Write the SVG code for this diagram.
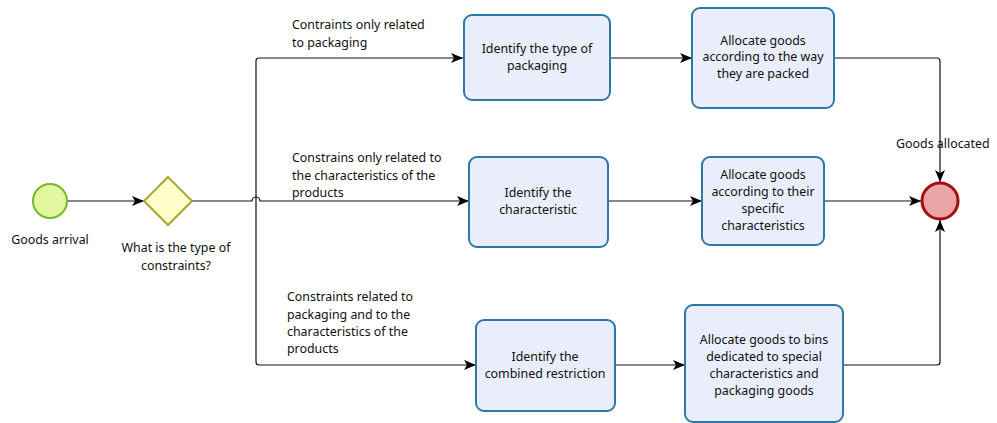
<svg xmlns="http://www.w3.org/2000/svg" width="997" height="423" viewBox="0 0 997 423">
<defs>
<marker id="arr" viewBox="0 0 12 10" refX="12" refY="5" markerWidth="12" markerHeight="10" markerUnits="userSpaceOnUse" orient="auto">
<path d="M0,0 L12,5 L0,10 L3,5 Z" fill="#000"/>
</marker>
<style>
.t{font-family:"Noto Sans","Open Sans",sans-serif;font-size:12.4px;fill:#111}
.c{text-anchor:middle}
.task{fill:#eaeefc;stroke:#2b7aa6;stroke-width:2}
.e{fill:none;stroke:#111;stroke-width:1.2}
</style>
</defs>
<rect width="997" height="423" fill="#fff"/>
<g id="connectors">
<path class="e" d="M67,201 H144" marker-end="url(#arr)"/>
<path class="e" d="M192,201 H252 A4,4 0 0 1 260,201 H469" marker-end="url(#arr)"/>
<path class="e" d="M256,201 V61 Q256,58 259,58 H463" marker-end="url(#arr)"/>
<path class="e" d="M256,201 V362 Q256,365 259,365 H476" marker-end="url(#arr)"/>
<path class="e" d="M610,58 H692" marker-end="url(#arr)"/>
<path class="e" d="M608,201 H702" marker-end="url(#arr)"/>
<path class="e" d="M615,365 H685" marker-end="url(#arr)"/>
<path class="e" d="M834,58 H937 Q940,58 940,61 V182" marker-end="url(#arr)"/>
<path class="e" d="M824,201 H921" marker-end="url(#arr)"/>
<path class="e" d="M843,365 H937 Q940,365 940,362 V220" marker-end="url(#arr)"/>
<text class="t" x="292" y="29">Contraints only related</text>
<text class="t" x="292" y="47">to packaging</text>
<text class="t" x="292" y="162">Constrains only related to</text>
<text class="t" x="292" y="180">the characteristics of the</text>
<text class="t" x="292" y="197">products</text>
<text class="t" x="287" y="301">Constraints related to</text>
<text class="t" x="287" y="319">packaging and to the</text>
<text class="t" x="287" y="336">characteristics of the</text>
<text class="t" x="287" y="353">products</text>
</g>
<g id="start">
<circle cx="50" cy="201" r="17" fill="#e2f6a0" stroke="#76b82a" stroke-width="2"/>
<text class="t c" x="50" y="244">Goods arrival</text>
</g>
<g id="gateway">
<polygon points="168,177 192,201 168,225 144,201" fill="#fffcc8" stroke="#a6a637" stroke-width="2"/>
<text class="t c" x="176" y="252">What is the type of</text>
<text class="t c" x="176" y="270">constraints?</text>
</g>
<g id="task1">
<rect class="task" x="464" y="15" width="146" height="85" rx="8"/>
<text class="t c" x="537" y="53">Identify the type of</text>
<text class="t c" x="537" y="70">packaging</text>
</g>
<g id="task2">
<rect class="task" x="469" y="157" width="139" height="90" rx="8"/>
<text class="t c" x="538" y="197">Identify the</text>
<text class="t c" x="538" y="214">characteristic</text>
</g>
<g id="task3">
<rect class="task" x="476" y="320" width="139" height="91" rx="8"/>
<text class="t c" x="545" y="361">Identify the</text>
<text class="t c" x="545" y="378">combined restriction</text>
</g>
<g id="task4">
<rect class="task" x="692" y="8" width="142" height="100" rx="8"/>
<text class="t c" x="763" y="45">Allocate goods</text>
<text class="t c" x="763" y="61">according to  the way</text>
<text class="t c" x="763" y="78">they are packed</text>
</g>
<g id="task5">
<rect class="task" x="702" y="157" width="122" height="88" rx="8"/>
<text class="t c" x="763" y="179">Allocate goods</text>
<text class="t c" x="763" y="196">according to their</text>
<text class="t c" x="763" y="213">specific</text>
<text class="t c" x="763" y="230">characteristics</text>
</g>
<g id="task6">
<rect class="task" x="685" y="305" width="158" height="117" rx="8"/>
<text class="t c" x="764" y="344">Allocate goods to bins</text>
<text class="t c" x="764" y="361">dedicated to special</text>
<text class="t c" x="764" y="378">characteristics and</text>
<text class="t c" x="764" y="395">packaging goods</text>
</g>
<g id="end">
<circle cx="940" cy="201" r="18" fill="#eba4a8" stroke="#a50d10" stroke-width="3"/>
<text class="t" x="896" y="148">Goods allocated</text>
</g>
</svg>
